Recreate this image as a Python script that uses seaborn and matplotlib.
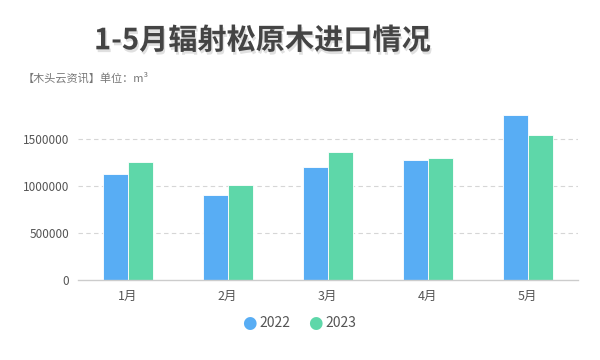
import pandas as pd
import matplotlib.pyplot as plt
import matplotlib.patheffects as pe
import seaborn as sns

# 数据（单位：立方米）
months = ['1月', '2月', '3月', '4月', '5月']
vals_2022 = [1130000, 903000, 1201000, 1276000, 1762000]
vals_2023 = [1255000, 1009000, 1368000, 1297000, 1549000]
years = ['2022', '2023']
yticks = [0, 500000, 1000000, 1500000]

df = pd.DataFrame({
    'month': months * 2,
    'value': vals_2022 + vals_2023,
    'year': [years[0]] * len(months) + [years[1]] * len(months),
})

sns.set_style('white')
plt.rcParams['font.family'] = ['Noto Sans CJK SC', 'DejaVu Sans']

fig = plt.figure(figsize=(6, 3.6), dpi=100)
ax = fig.add_axes([0.1295, 0.222, 0.8335, 0.521])

palette = {'2022': '#58adf4', '2023': '#5ed7a9'}
sns.barplot(data=df, x='month', y='value', hue='year', palette=palette,
            width=0.5, saturation=1, ax=ax, legend=False,
            edgecolor='white', linewidth=0.6)

ax.set_ylim(0, 2000000)
ax.set_yticks(yticks)
ax.set_yticklabels([str(v) for v in yticks])
ax.set_xlim(-0.5, len(months) - 0.5)
ax.set_xlabel('')
ax.set_ylabel('')

for v in yticks[1:]:
    ax.axhline(v, color='#d6d6d6', lw=0.8, ls=(0, (4, 3)), zorder=0)

for s in ['top', 'right', 'left']:
    ax.spines[s].set_visible(False)
ax.spines['bottom'].set_color('#cccccc')
ax.spines['bottom'].set_linewidth(1)
ax.tick_params(axis='x', colors='#cccccc', length=4, width=1, labelcolor='#555555',
               labelsize=9, pad=3)
ax.tick_params(axis='y', length=0, labelcolor='#555555', labelsize=8.5, pad=6)

# 图例
for i, y in enumerate(years):
    x0 = 0.415 + i * 0.11
    fig.text(x0, 0.103, '●', color=palette[y], fontsize=12, ha='center', va='center',
             family=['DejaVu Sans'])
    fig.text(x0 + 0.018, 0.103, y, color='#555555', fontsize=10, ha='left', va='center')

# 标题
fig.text(0.437, 0.888, '1-5月辐射松原木进口情况', fontsize=21, fontweight='bold',
         color='#444444', ha='center', va='center',
         path_effects=[pe.SimplePatchShadow(offset=(1, -2), shadow_rgbFace='#999999', alpha=0.3),
                       pe.Normal()])
fig.text(0.038, 0.783, '【木头云资讯】单位：m³', fontsize=8, color='#777777',
         ha='left', va='center')

fig.savefig('out.png', dpi=100, facecolor='white')
